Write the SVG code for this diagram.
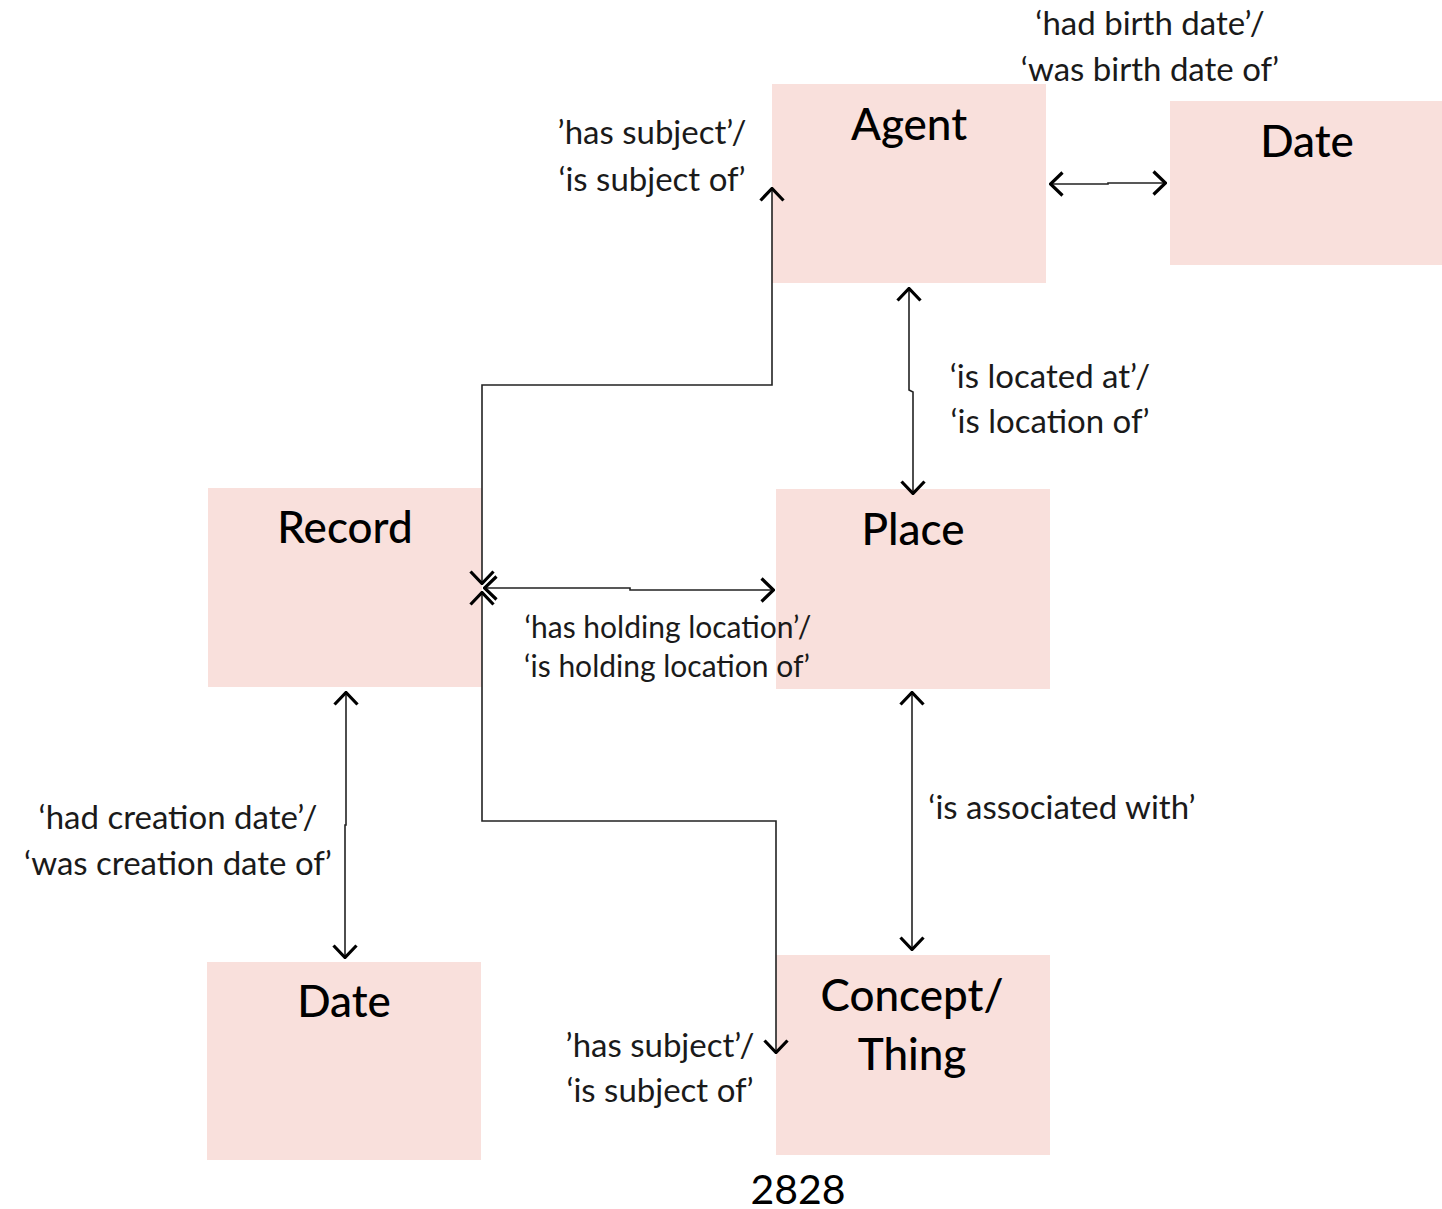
<svg xmlns="http://www.w3.org/2000/svg" width="1442" height="1209" viewBox="0 0 1442 1209">
<defs>
<style>
.box{fill:#F9E0DC;}
.title{font-family:Lato,"Liberation Sans",sans-serif;font-size:44px;fill:#000;text-anchor:middle;font-weight:500;}
.lbl{font-family:Lato,"Liberation Sans",sans-serif;font-size:33px;fill:#1a1a1a;text-anchor:middle;font-weight:400;}
.lbls{font-family:Lato,"Liberation Sans",sans-serif;font-size:30px;fill:#1a1a1a;text-anchor:middle;font-weight:400;}
.con{fill:none;stroke:#222;stroke-width:1.6;marker-start:url(#arr);marker-end:url(#arr);}
</style>
<marker id="arr" viewBox="0 0 15 26" refX="14" refY="13" markerWidth="15" markerHeight="26" markerUnits="userSpaceOnUse" orient="auto-start-reverse">
<path d="M1.5,1.5 L13.5,13 L1.5,24.5" fill="none" stroke="#000" stroke-width="3.2"/>
</marker>
</defs>
<rect width="1442" height="1209" fill="#fff"/>

<g id="node-agent">
<rect class="box" x="772" y="84" width="274" height="199"/>
<text class="title" x="909" y="140">Agent</text>
</g>
<g id="node-date-top">
<rect class="box" x="1170" y="101" width="272" height="164"/>
<text class="title" x="1307" y="157">Date</text>
</g>
<g id="node-record">
<rect class="box" x="208" y="488" width="274" height="199"/>
<text class="title" x="345" y="543">Record</text>
</g>
<g id="node-place">
<rect class="box" x="776" y="489" width="274" height="200"/>
<text class="title" x="913" y="545">Place</text>
</g>
<g id="node-date-bottom">
<rect class="box" x="207" y="962" width="274" height="198"/>
<text class="title" x="344" y="1017">Date</text>
</g>
<g id="node-concept">
<rect class="box" x="776" y="955" width="274" height="200"/>
<text class="title" x="912" y="1011">Concept/</text>
<text class="title" x="912" y="1070">Thing</text>
</g>

<g id="connectors">
<path class="con" d="M1050,184 L1108,184 L1108,183 L1166,183"/>
<path class="con" d="M909,288 L909,390 L913,392 L913,494"/>
<path class="con" d="M482,584 L482,385 L772,385 L772,188"/>
<path class="con" d="M484,588 L630,588 L630,590 L774,590"/>
<path class="con" d="M482,592 L482,821 L776,821 L776,1053"/>
<path class="con" d="M346,692 L346,825 L345,825 L345,958"/>
<path class="con" d="M912,692 L912,950"/>
</g>

<g id="labels">
<text class="lbl" x="652" y="144">’has subject’/</text>
<text class="lbl" x="652" y="191">‘is subject of’</text>
<text class="lbl" x="1150" y="35">‘had birth date’/</text>
<text class="lbl" x="1150" y="81">‘was birth date of’</text>
<text class="lbl" x="1050" y="388">‘is located at’/</text>
<text class="lbl" x="1050" y="433">‘is location of’</text>
<text class="lbls" x="668" y="638">‘has holding location’/</text>
<text class="lbls" x="667" y="677">‘is holding location of’</text>
<text class="lbl" x="178" y="829">‘had creation date’/</text>
<text class="lbl" x="178" y="875">‘was creation date of’</text>
<text class="lbl" x="1062" y="819">‘is associated with’</text>
<text class="lbl" x="660" y="1057">’has subject’/</text>
<text class="lbl" x="660" y="1102">‘is subject of’</text>
<text class="title" x="798" y="1204" style="font-size:41px;font-weight:400">2828</text>
</g>
</svg>
